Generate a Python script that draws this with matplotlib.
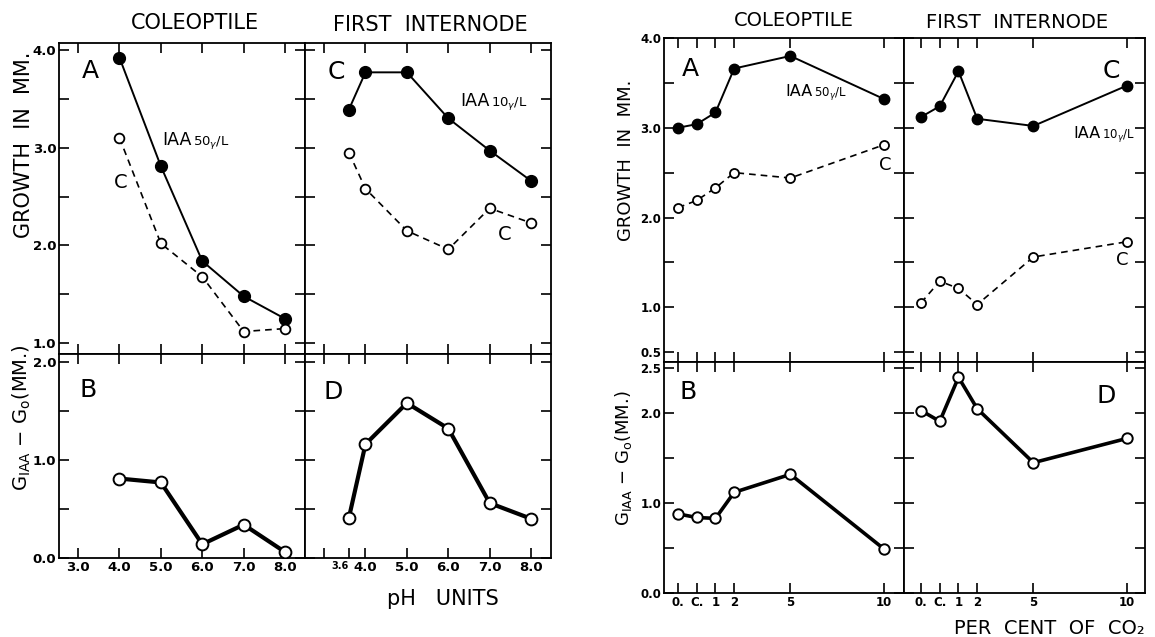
import matplotlib
matplotlib.use("Agg")
import matplotlib.pyplot as plt
from matplotlib.offsetbox import TextArea, HPacker, AnnotationBbox

plt.rcParams["font.family"] = ["DejaVu Sans"]

W, H = 1155, 637

# ---- growth vs pH ----
ph_cole = [4.0, 5.0, 6.0, 7.0, 8.0]
cole_iaa_ph = [3.92, 2.81, 1.84, 1.48, 1.25]
cole_ctrl_ph = [3.10, 2.02, 1.68, 1.12, 1.15]
cole_diff_ph = [0.81, 0.77, 0.14, 0.34, 0.06]

ph_inter = [3.6, 4.0, 5.0, 6.0, 7.0, 8.0]
inter_iaa_ph = [3.39, 3.77, 3.77, 3.30, 2.97, 2.66]
inter_ctrl_ph = [2.95, 2.58, 2.15, 1.96, 2.38, 2.23]
inter_diff_ph = [0.41, 1.16, 1.58, 1.32, 0.56, 0.40]

ph_ticks = [3.0, 4.0, 5.0, 6.0, 7.0, 8.0]
ph_ticklabels = ["3.0", "4.0", "5.0", "6.0", "7.0", "8.0"]
ph_ticks_inter = [3.0, 3.6, 4.0, 5.0, 6.0, 7.0, 8.0]
ph_ticklabels_inter = ["", "3.6", "4.0", "5.0", "6.0", "7.0", "8.0"]

# ---- growth vs CO2 concentration ----
co2_pos = [-1, 0, 1, 2, 5, 10]
co2_labels = ["0.", "C.", "1", "2", "5", "10"]
cole_iaa_co2 = [3.00, 3.04, 3.17, 3.66, 3.80, 3.32]
cole_ctrl_co2 = [2.11, 2.19, 2.33, 2.50, 2.44, 2.81]
cole_diff_co2 = [0.88, 0.84, 0.83, 1.12, 1.32, 0.49]
inter_iaa_co2 = [3.12, 3.24, 3.63, 3.10, 3.02, 3.47]
inter_ctrl_co2 = [1.05, 1.29, 1.21, 1.03, 1.56, 1.73]
inter_diff_co2 = [2.03, 1.91, 2.40, 2.05, 1.45, 1.72]

fig = plt.figure(figsize=(W / 100, H / 100), dpi=100)


def box(x0, y0, x1, y1):
    """Axes placed by pixel edges (origin top-left)."""
    return fig.add_axes([x0 / W, 1 - y1 / H, (x1 - x0) / W, (y1 - y0) / H])


def fpos(x, y):
    return x / W, 1 - y / H


def style(ax, lsize):
    for s in ax.spines.values():
        s.set_linewidth(1.3)
    ax.tick_params(which="both", direction="in", length=7, width=1.2,
                   top=True, right=True, labelsize=lsize, pad=2)


def embolden(ax):
    plt.setp(ax.get_xticklabels() + ax.get_yticklabels(), fontweight="bold")


def growth(ax, x, iaa, ctrl, ms_f, ms_o):
    ax.plot(x, iaa, "-", color="black", lw=1.4, marker="o", ms=ms_f,
            mfc="black", mec="black", zorder=3)
    ax.plot(x, ctrl, color="black", lw=1.2, ls=(0, (4, 3)), marker="o",
            ms=ms_o, mfc="white", mec="black", mew=1.3, zorder=3)


def diff(ax, x, d, lw, ms):
    ax.plot(x, d, "-", color="black", lw=lw, marker="o", ms=ms,
            mfc="white", mec="black", mew=1.4, zorder=3, solid_joinstyle="round")


def iaa_label(x, y, big, small, bsize, ssize):
    pk = HPacker(children=[TextArea(big, textprops=dict(fontsize=bsize)),
                           TextArea(small, textprops=dict(fontsize=ssize))],
                 align="baseline", pad=0, sep=1)
    ab = AnnotationBbox(pk, fpos(x, y), xycoords="figure fraction",
                        box_alignment=(0, 0.5), frameon=False, pad=0)
    fig.add_artist(ab)


def text(x, y, s, size, **kw):
    fig.text(*fpos(x, y), s, fontsize=size, ha="center", va="center", **kw)


# ================= pH figure =================
axA = box(59, 43, 305, 354)
axB = box(59, 354, 305, 558)
axC = box(305, 43, 551, 354)
axD = box(305, 354, 551, 558)

for ax in (axA, axB, axC, axD):
    style(ax, 9.5)
    ax.set_xlim(2.54, 8.48)
for ax in (axA, axC):
    ax.set_ylim(0.89, 4.07)
    ax.set_yticks([1.0, 1.5, 2.0, 2.5, 3.0, 3.5, 4.0])
    ax.set_yticklabels(["1.0", "", "2.0", "", "3.0", "", "4.0"])
    ax.set_xticks(ph_ticks)
    ax.tick_params(labelbottom=False)
for ax in (axB, axD):
    ax.set_ylim(0.0, 2.08)
    ax.set_yticks([0.0, 0.5, 1.0, 1.5, 2.0])
    ax.set_yticklabels(["0.0", "", "1.0", "", "2.0"])
axB.set_xticks(ph_ticks)
axB.set_xticklabels(ph_ticklabels)
axD.set_xticks(ph_ticks_inter)
axD.set_xticklabels(ph_ticklabels_inter)
lbl36 = axD.get_xticklabels()[1]
lbl36.set_fontsize(7)
lbl36.set_horizontalalignment("right")
for ax in (axC, axD):
    ax.tick_params(labelleft=False)

growth(axA, ph_cole, cole_iaa_ph, cole_ctrl_ph, 8.5, 7)
growth(axC, ph_inter, inter_iaa_ph, inter_ctrl_ph, 8.5, 7)
diff(axB, ph_cole, cole_diff_ph, 3.0, 8.5)
diff(axD, ph_inter, inter_diff_ph, 3.0, 8.5)

text(195, 23, "COLEOPTILE", 15)
text(430, 25, "FIRST  INTERNODE", 15)
text(24, 145, "GROWTH  IN  MM.", 15, rotation=90)
text(22, 418, r"G$_{\mathregular{IAA}}$ $-$ G$_{\mathregular{o}}$(MM.)", 14,
     rotation=90)
text(443, 599, "pH   UNITS", 15)
text(90, 71, "A", 18)
text(88, 390, "B", 18)
text(336, 72, "C", 18)
text(333, 392, "D", 18)
text(121, 183, "C", 14)
text(505, 235, "C", 14)
iaa_label(162, 141, "IAA", r"50$_{\gamma}$/L", 12.5, 9.5)
iaa_label(460, 102, "IAA", r"10$_{\gamma}$/L", 12.5, 9.5)

# ================= CO2 figure =================
axA2 = box(664, 38, 904, 362)
axB2 = box(664, 362, 904, 593)
axC2 = box(904, 38, 1145, 362)
axD2 = box(904, 362, 1145, 593)

for ax in (axA2, axB2):
    ax.set_xlim(-1.75, 11.07)
for ax in (axC2, axD2):
    ax.set_xlim(-1.91, 10.96)
for ax in (axA2, axB2, axC2, axD2):
    style(ax, 8.5)
    ax.set_xticks(co2_pos)
for ax in (axA2, axC2):
    ax.set_ylim(0.39, 4.0)
    ax.set_yticks([0.5, 1.0, 1.5, 2.0, 2.5, 3.0, 3.5, 4.0])
    ax.set_yticklabels(["0.5", "1.0", "", "2.0", "", "3.0", "", "4.0"])
    ax.tick_params(labelbottom=False)
for ax in (axB2, axD2):
    ax.set_ylim(0.0, 2.57)
    ax.set_yticks([0.0, 0.5, 1.0, 1.5, 2.0, 2.5])
    ax.set_yticklabels(["0.0", "", "1.0", "", "2.0", "2.5"])
    ax.set_xticklabels(co2_labels)
for ax in (axC2, axD2):
    ax.tick_params(labelleft=False)

growth(axA2, co2_pos, cole_iaa_co2, cole_ctrl_co2, 7.5, 6.5)
growth(axC2, co2_pos, inter_iaa_co2, inter_ctrl_co2, 7.5, 6.5)
diff(axB2, co2_pos, cole_diff_co2, 2.6, 7.5)
diff(axD2, co2_pos, inter_diff_co2, 2.6, 7.5)

for ax in (axA, axB, axC, axD, axA2, axB2, axC2, axD2):
    embolden(ax)

text(794, 20, "COLEOPTILE", 14)
text(1017, 22, "FIRST  INTERNODE", 14)
text(626, 160, "GROWTH  IN  MM.", 13, rotation=90)
text(623, 458, r"G$_{\mathregular{IAA}}$ $-$ G$_{\mathregular{o}}$(MM.)", 13,
     rotation=90)
text(1049, 628, "PER  CENT  OF  CO\u2082", 14)
text(690, 69, "A", 18)
text(688, 392, "B", 18)
text(1111, 71, "C", 18)
text(1106, 396, "D", 18)
text(885, 165, "C", 13)
text(1122, 260, "C", 13)
iaa_label(785, 93, "IAA", r"50$_{\gamma}$/L", 11.5, 8.5)
iaa_label(1073, 135, "IAA", r"10$_{\gamma}$/L", 11.5, 8.5)

fig.savefig("out.png", dpi=100)
